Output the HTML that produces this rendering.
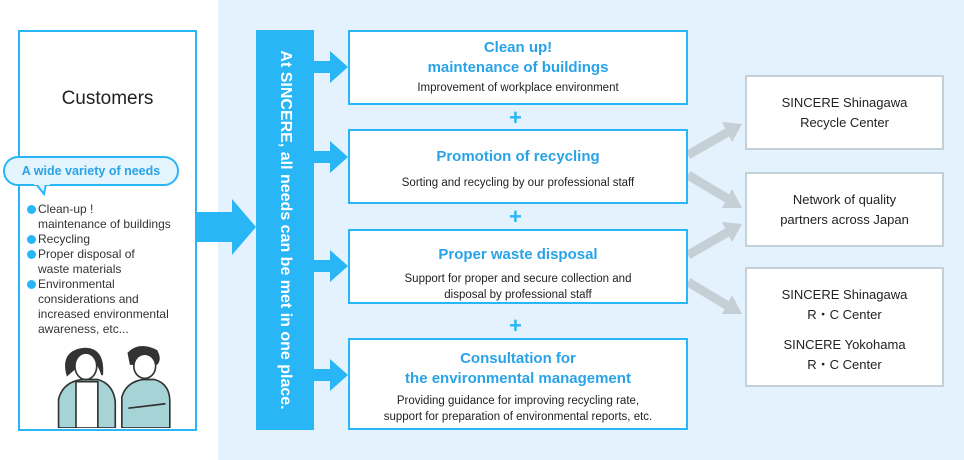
<!DOCTYPE html>
<html><head><meta charset="utf-8"><style>
body{margin:0;width:964px;height:460px;position:relative;overflow:hidden;background:#fff;font-family:"Liberation Sans","Noto Sans CJK JP",sans-serif;color:#222}
.bg{position:absolute;left:218px;top:0;width:746px;height:460px;background:#e3f2fd}
.box{position:absolute;border:2px solid #29b6f6;background:#fff;box-sizing:border-box;text-align:center}
.t{color:#29a3e8;font-weight:bold;font-size:15px;line-height:20px}
.s{font-size:11.5px;line-height:16px;color:#222}
.r{position:absolute;left:745px;width:199px;border:2px solid #c4d0d8;background:#fff;box-sizing:border-box;text-align:center;font-size:13px;line-height:20px;color:#222}
.plus{position:absolute;left:509px;color:#29b6f6;font-size:22px;font-weight:bold;line-height:20px}
ul{list-style:none;margin:0;padding:0;position:absolute;left:26px;top:202px;font-size:12px;line-height:15px;color:#333}
li{position:relative;padding-left:12px}
li:before{content:"";position:absolute;left:1px;top:3px;width:9px;height:9px;border-radius:50%;background:#29b6f6}
</style></head><body>
<div class="bg"></div>
<div class="box" style="left:18px;top:30px;width:179px;height:401px;"></div>
<div style="position:absolute;left:18px;top:88px;width:179px;text-align:center;font-size:19px">Customers</div>
<div style="position:absolute;left:3px;top:156px;width:176px;height:30px;border:2px solid #29b6f6;border-radius:16px;background:#e3f4fd;box-sizing:border-box;text-align:center;color:#29a3e8;font-weight:bold;font-size:12.5px;line-height:27px">A wide variety of needs</div>
<svg style="position:absolute;left:34px;top:184px" width="16" height="12"><polygon points="2,0 12,0 10,10" fill="#e3f4fd" stroke="#29b6f6" stroke-width="2"/><rect x="0" y="-2" width="16" height="3" fill="#e3f4fd"/></svg>
<ul><li>Clean-up !<br>maintenance of buildings</li><li>Recycling</li><li>Proper disposal of<br>waste materials</li><li>Environmental<br>considerations and<br>increased environmental<br>awareness, etc...</li></ul>
<svg style="position:absolute;left:52px;top:342px" width="120" height="86" viewBox="0 0 110 78" preserveAspectRatio="none">
<g stroke="#333" stroke-width="1.5">
<path d="M6,78 L6,52 Q10,36 28,34 L42,34 Q56,38 58,54 L58,78Z" fill="#a6d4d6"/>
<rect x="22" y="36" width="20" height="42" fill="#fff"/>
<path d="M14,30 Q8,8 30,6 Q48,6 46,30 Q40,12 30,14 Q24,22 14,30Z" fill="#333"/>
<ellipse cx="31" cy="22" rx="10" ry="12" fill="#fff"/>
<path d="M64,78 L64,50 Q68,36 84,34 L94,34 Q108,38 108,54 L108,78Z" fill="#a6d4d6"/>
<path d="M70,10 Q80,0 96,8 Q100,16 96,20 L72,20Z" fill="#333"/>
<ellipse cx="85" cy="22" rx="10" ry="11" fill="#fff"/>
<path d="M70,60 L104,56" />
</g></svg>
<svg style="position:absolute;left:0;top:0" width="964" height="460">
<polygon points="196,212 232,212 232,199 256,227 232,255 232,242 196,242" fill="#29b6f6"/>
<g fill="#29b6f6">
<polygon points="314,61 330,61 330,51 348,67 330,83 330,73 314,73"/>
<polygon points="314,151 330,151 330,141 348,157 330,173 330,163 314,163"/>
<polygon points="314,260 330,260 330,250 348,266 330,282 330,272 314,272"/>
<polygon points="314,369 330,369 330,359 348,375 330,391 330,381 314,381"/>
</g>
<g stroke="#c4cfd6" stroke-width="9" fill="#c4cfd6">
<line x1="688" y1="155" x2="728" y2="132"/><polygon points="742,124 722,122 732,142" stroke="none"/>
<line x1="688" y1="175" x2="728" y2="199"/><polygon points="742,208 732,189 722,208" stroke="none"/>
<line x1="688" y1="255" x2="728" y2="232"/><polygon points="742,224 722,222 732,242" stroke="none"/>
<line x1="688" y1="282" x2="728" y2="306"/><polygon points="742,314 732,295 722,314" stroke="none"/>
</g>
</svg>
<div style="position:absolute;left:256px;top:30px;width:58px;height:400px;background:#29b6f6"></div>
<div style="position:absolute;left:285px;top:230px;transform:translate(-50%,-50%) rotate(90deg);white-space:nowrap;color:#fff;font-weight:bold;font-size:16px">At SINCERE, all needs can be met in one place.</div>
<div class="box" style="left:348px;top:30px;width:340px;height:75px;padding-top:6px"><div class="t">Clean up!<br>maintenance of buildings</div><div class="s" style="margin-top:2px">Improvement of workplace environment</div></div>
<div class="plus" style="top:108px">+</div>
<div class="box" style="left:348px;top:129px;width:340px;height:75px;padding-top:16px"><div class="t">Promotion of recycling</div><div class="s" style="margin-top:8px">Sorting and recycling by our professional staff</div></div>
<div class="plus" style="top:207px">+</div>
<div class="box" style="left:348px;top:229px;width:340px;height:75px;padding-top:14px"><div class="t">Proper waste disposal</div><div class="s" style="margin-top:6px">Support for proper and secure collection and<br>disposal by professional staff</div></div>
<div class="plus" style="top:316px">+</div>
<div class="box" style="left:348px;top:338px;width:340px;height:92px;padding-top:9px"><div class="t">Consultation for<br>the environmental management</div><div class="s" style="margin-top:4px">Providing guidance for improving recycling rate,<br>support for preparation of environmental reports, etc.</div></div>
<div class="r" style="top:75px;height:75px;padding-top:16px">SINCERE Shinagawa<br>Recycle Center</div>
<div class="r" style="top:172px;height:75px;padding-top:16px">Network of quality<br>partners across Japan</div>
<div class="r" style="top:267px;height:120px;padding-top:16px">SINCERE Shinagawa<br>R・C Center<div style="height:10px"></div>SINCERE Yokohama<br>R・C Center</div>
</body></html>
